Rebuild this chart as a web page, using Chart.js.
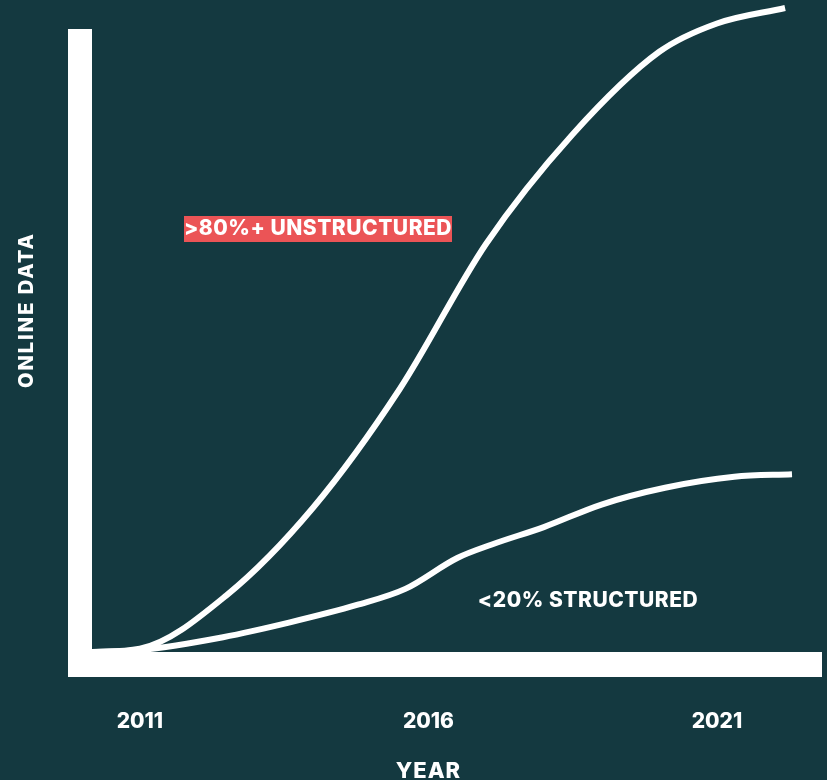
<!DOCTYPE html>
<html>
<head>
<meta charset="utf-8">
<script src="https://cdn.jsdelivr.net/npm/chart.js@4.4.1/dist/chart.umd.min.js"></script>
<style>
  html, body { margin: 0; padding: 0; background: #143940; }
  #wrap { width: 827px; height: 780px; }
</style>
</head>
<body>
<div id="wrap"><canvas id="chart"></canvas></div>
<script>
// values (x = year, y = relative amount of online data)
const unstructuredYears = [2010.17, 2011, 2012.5, 2014, 2015.5, 2017, 2018.5, 2020, 2021, 2022.18];
const unstructuredValues = [0, 0.5, 8.8, 22.4, 40.8, 63.4, 80.4, 93.2, 97.6, 100];

const structuredYears = [2010.17, 2011, 2012.44, 2013.6, 2014.76, 2015.6, 2016.5, 2017.1, 2018, 2019, 2020.1, 2021.3, 2022.3];
const structuredValues = [0, 0.3, 2.3, 4.6, 7.3, 9.8, 14.6, 16.7, 19.4, 22.9, 25.5, 27.2, 27.6];

const tickYears = [2011, 2016, 2021];

const fontFamily = 'Inter, "Open Sans", sans-serif';

function toPoints(xs, ys) {
    return xs.map((x, i) => ({ x: x, y: ys[i] }));
}

// thick white axes, titles and the two labels
const decorations = {
    id: 'decorations',
    afterDatasetsDraw(chart) {
        const { ctx, chartArea } = chart;
        const xScale = chart.scales.x;
        ctx.save();
        ctx.fillStyle = '#ffffff';
        // y axis bar
        ctx.fillRect(chartArea.left - 24, chartArea.top + 21, 24, chartArea.bottom - chartArea.top + 4);
        // x axis bar
        ctx.fillRect(chartArea.left - 23, chartArea.bottom, chartArea.right - chartArea.left + 23, 25);

        ctx.textBaseline = 'middle';
        ctx.textAlign = 'center';

        // axis titles
        ctx.letterSpacing = '1px';
        ctx.font = '800 22px ' + fontFamily;
        ctx.fillText('YEAR', xScale.getPixelForValue(2016), 771);

        ctx.save();
        ctx.translate(27, 310);
        ctx.rotate(-Math.PI / 2);
        ctx.letterSpacing = '2px';
        ctx.font = '800 20px ' + fontFamily;
        ctx.fillText('ONLINE DATA', 0, 0);
        ctx.restore();

        // series labels
        ctx.letterSpacing = '0.5px';
        ctx.font = '800 21px ' + fontFamily;
        ctx.fillStyle = '#eb5456';
        ctx.fillRect(184, 216, 268, 26);
        ctx.fillStyle = '#ffffff';
        ctx.fillText('>80%+ UNSTRUCTURED', 318, 229);

        ctx.fillText('<20% STRUCTURED', 588, 601);
        ctx.restore();
    }
};

const ctx = document.getElementById('chart').getContext('2d');
new Chart(ctx, {
    type: 'line',
    data: {
        datasets: [
            {
                label: '>80%+ Unstructured',
                data: toPoints(unstructuredYears, unstructuredValues),
                borderColor: '#ffffff',
                borderWidth: 6,
                borderJoinStyle: 'round',
                pointRadius: 0,
                cubicInterpolationMode: 'monotone',
                clip: false
            },
            {
                label: '<20% Structured',
                data: toPoints(structuredYears, structuredValues),
                borderColor: '#ffffff',
                borderWidth: 6,
                borderJoinStyle: 'round',
                pointRadius: 0,
                cubicInterpolationMode: 'monotone',
                clip: false
            }
        ]
    },
    options: {
        responsive: true,
        maintainAspectRatio: false,
        animation: false,
        layout: { padding: { left: 92, right: 5, top: 8, bottom: 0 } },
        scales: {
            x: {
                type: 'linear',
                min: 2010.17,
                max: 2022.82,
                grid: { display: false, drawTicks: false },
                border: { display: false },
                afterBuildTicks: (scale) => {
                    scale.ticks = tickYears.map(v => ({ value: v }));
                },
                afterFit: (scale) => { scale.height = 128; },
                ticks: {
                    color: '#ffffff',
                    padding: 57,
                    maxRotation: 0,
                    autoSkip: false,
                    font: { family: fontFamily, size: 21, weight: 800 },
                    callback: (v) => String(v)
                }
            },
            y: {
                display: false,
                min: 0,
                max: 100
            }
        },
        plugins: {
            legend: { display: false },
            tooltip: { enabled: false }
        }
    },
    plugins: [decorations]
});
</script>
</body>
</html>
